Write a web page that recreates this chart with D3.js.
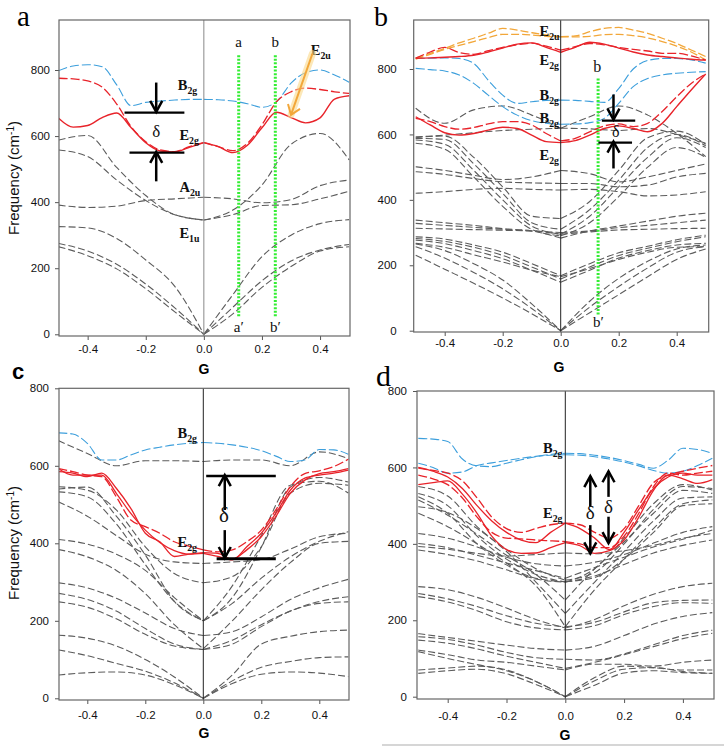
<!DOCTYPE html>
<html lang="en">
<head>
<meta charset="utf-8">
<title>Phonon dispersion panels</title>
<script src="https://d3js.org/d3.v7.min.js"></script>
<style>
  body { margin: 0; background: #fff; }
  text { font-family: "Liberation Sans", Arial, sans-serif; }
</style>
</head>
<body>
<script>
const width = 724, height = 747;

// wave vector grids: fine one for the coloured bands, coarse one for the grey bands
const qFine = [-0.5, -0.45, -0.4, -0.35, -0.3, -0.25, -0.2, -0.15, -0.1, -0.05, 0,
               0.05, 0.1, 0.15, 0.2, 0.25, 0.3, 0.35, 0.4, 0.45, 0.5];
const qCoarse = [-0.5, -0.4, -0.3, -0.2, -0.1, 0, 0.1, 0.2, 0.3, 0.4, 0.5];
const xTicks = [-0.4, -0.2, 0.0, 0.2, 0.4];
const yTicks = [0, 200, 400, 600, 800];

// ---- panel a ----
const aBlue = [798, 812, 816, 810, 755, 692, 702, 706, 709, 711, 711, 710, 706, 698, 687, 704, 760, 792, 800, 785, 763];
const aRedDash = [775, 773, 767, 748, 697, 628, 583, 558, 553, 568, 580, 568, 556, 578, 634, 704, 734, 745, 741, 734, 729];
const aRedSolid = [654, 627, 632, 656, 670, 625, 580, 555, 552, 566, 580, 568, 550, 572, 625, 672, 656, 640, 655, 712, 722];
const aGray = [
  [588, 602, 505, 420, 362, 346, 376, 452, 575, 608, 528],
  [558, 538, 467, 405, 362, 346, 362, 390, 392, 410, 433],
  [391, 384, 388, 405, 410, 415, 410, 398, 408, 450, 467],
  [326, 322, 290, 225, 145, 0, 120, 235, 300, 335, 347],
  [275, 252, 212, 152, 80, 0, 82, 162, 222, 255, 272],
  [265, 238, 198, 138, 68, 0, 62, 142, 205, 252, 265]
];

// ---- panel b ----
const bOrange1 = [833, 848, 863, 880, 894, 909, 924, 919, 911, 904, 899, 901, 914, 924, 927, 919, 909, 894, 878, 858, 838];
const bOrange2 = [830, 845, 860, 872, 884, 896, 906, 906, 904, 900, 898, 898, 900, 905, 906, 902, 895, 884, 870, 852, 828];
const bRedDash = [833, 852, 866, 850, 845, 856, 866, 874, 879, 870, 858, 868, 878, 874, 866, 860, 855, 848, 848, 840, 827];
const bRedSolid = [833, 834, 836, 838, 842, 852, 864, 876, 880, 866, 851, 866, 882, 876, 864, 852, 843, 838, 834, 830, 827];
const bBlue1 = [833, 833, 834, 832, 817, 766, 720, 695, 700, 704, 705, 704, 701, 698, 740, 800, 826, 832, 832, 828, 818];
const bBlue2 = [802, 798, 794, 782, 756, 720, 685, 659, 642, 634, 631, 632, 636, 649, 695, 746, 771, 782, 787, 790, 792];
const bRedDash2 = [649, 639, 624, 616, 621, 632, 639, 639, 629, 603, 580, 588, 608, 626, 632, 624, 634, 670, 715, 756, 785];
const bRedSolid2 = [654, 629, 605, 598, 603, 613, 622, 618, 598, 578, 575, 581, 598, 618, 626, 618, 608, 634, 685, 736, 785];
const bGray = [
  [680, 634, 675, 687, 659, 619, 654, 687, 659, 603, 532],
  [590, 598, 605, 612, 616, 619, 617, 612, 618, 600, 573],
  [593, 595, 530, 440, 350, 343, 395, 490, 590, 610, 570],
  [588, 585, 510, 420, 330, 310, 370, 460, 560, 600, 565],
  [583, 570, 490, 400, 320, 295, 350, 440, 530, 590, 560],
  [573, 555, 470, 380, 310, 290, 330, 410, 500, 560, 530],
  [501, 490, 475, 462, 470, 490, 480, 455, 470, 490, 510],
  [486, 478, 465, 455, 452, 450, 450, 440, 445, 470, 481],
  [420, 425, 432, 435, 432, 430, 432, 425, 412, 415, 425],
  [338, 330, 322, 312, 305, 283, 305, 320, 335, 350, 359],
  [328, 322, 316, 310, 305, 300, 305, 315, 322, 330, 338],
  [313, 311, 309, 307, 305, 295, 302, 308, 310, 312, 313],
  [287, 280, 262, 240, 205, 168, 205, 238, 258, 278, 292],
  [282, 273, 255, 230, 195, 158, 195, 230, 252, 272, 287],
  [277, 266, 245, 220, 185, 148, 185, 222, 245, 262, 267],
  [267, 255, 232, 210, 185, 165, 190, 218, 240, 255, 257],
  [257, 222, 178, 128, 68, 0, 72, 135, 192, 240, 257],
  [231, 188, 145, 100, 52, 0, 55, 110, 165, 218, 250],
  [265, 245, 205, 155, 82, 0, 90, 160, 212, 250, 262]
];

// ---- panel c ----
const cBlue = [685, 682, 658, 615, 615, 628, 641, 648, 654, 658, 660, 658, 654, 648, 639, 625, 611, 615, 642, 641, 630];
const cRed1 = [585, 581, 572, 581, 542, 490, 426, 404, 366, 372, 376, 374, 359, 383, 417, 469, 529, 563, 580, 585, 593];
const cRed2 = [593, 576, 576, 576, 529, 477, 434, 402, 381, 372, 374, 366, 357, 391, 426, 477, 537, 568, 576, 581, 589];
const cRedDash = [593, 585, 576, 572, 520, 460, 443, 426, 404, 393, 383, 378, 383, 404, 434, 486, 546, 580, 587, 598, 617];
const cGray = [
  [665, 632, 600, 613, 613, 611, 615, 615, 600, 636, 619],
  [546, 537, 486, 391, 322, 298, 314, 391, 529, 555, 550],
  [533, 520, 450, 345, 250, 200, 260, 390, 545, 570, 558],
  [507, 470, 420, 372, 352, 348, 352, 358, 385, 417, 426],
  [540, 545, 470, 370, 250, 200, 290, 420, 550, 560, 530],
  [410, 398, 372, 330, 260, 200, 245, 310, 365, 405, 430],
  [384, 365, 330, 270, 190, 128, 200, 280, 350, 400, 405],
  [298, 285, 258, 220, 180, 162, 172, 210, 255, 285, 307],
  [271, 255, 225, 180, 140, 126, 140, 185, 225, 250, 262],
  [249, 235, 205, 165, 135, 126, 150, 190, 225, 245, 249],
  [163, 155, 135, 100, 55, 0, 60, 140, 160, 172, 176],
  [125, 110, 90, 70, 40, 0, 45, 80, 95, 105, 107],
  [60, 66, 68, 60, 35, 0, 38, 62, 68, 65, 56]
];

// ---- panel d ----
const dBlue1 = [676, 674, 668, 622, 604, 602, 611, 620, 628, 634, 637, 636, 632, 626, 618, 608, 598, 619, 650, 647, 637];
const dBlue2 = [611, 600, 585, 588, 605, 612, 618, 624, 629, 632, 633, 632, 628, 622, 614, 604, 592, 585, 590, 605, 624];
const dRedSolid1 = [600, 590, 575, 545, 500, 460, 430, 410, 403, 430, 454, 440, 415, 385, 430, 490, 545, 575, 585, 580, 580];
const dRedSolid2 = [555, 560, 565, 530, 480, 420, 385, 375, 376, 390, 403, 395, 375, 382, 410, 470, 540, 580, 570, 558, 568];
const dRedDash1 = [598, 592, 585, 565, 520, 470, 440, 430, 440, 450, 454, 450, 430, 415, 440, 500, 560, 580, 590, 598, 605];
const dRedDash2 = [580, 570, 555, 520, 470, 430, 415, 413, 410, 408, 406, 400, 390, 390, 420, 480, 550, 585, 580, 585, 590];
const dGray = [
  [550, 525, 445, 385, 335, 305, 325, 400, 490, 550, 545],
  [532, 500, 420, 360, 320, 300, 335, 415, 505, 555, 541],
  [523, 480, 400, 345, 310, 301, 312, 360, 430, 500, 505],
  [515, 475, 425, 370, 320, 253, 335, 405, 480, 540, 532],
  [497, 482, 440, 380, 300, 218, 300, 380, 460, 520, 523],
  [480, 445, 400, 350, 290, 183, 280, 360, 440, 505, 515],
  [427, 415, 392, 365, 348, 342, 352, 372, 402, 430, 445],
  [401, 390, 370, 350, 330, 310, 338, 365, 392, 412, 436],
  [393, 386, 375, 368, 372, 376, 374, 382, 396, 415, 427],
  [384, 372, 355, 332, 308, 300, 316, 346, 376, 396, 410],
  [288, 280, 260, 232, 202, 180, 202, 238, 268, 288, 297],
  [270, 256, 236, 212, 192, 183, 195, 222, 246, 252, 253],
  [262, 248, 225, 196, 180, 175, 186, 215, 236, 246, 244],
  [157, 150, 135, 116, 102, 98, 96, 112, 136, 160, 174],
  [148, 140, 125, 106, 90, 74, 90, 110, 131, 152, 166],
  [122, 110, 96, 90, 80, 70, 85, 85, 80, 90, 96],
  [118, 100, 84, 68, 40, 0, 50, 80, 76, 70, 70],
  [70, 75, 80, 70, 40, 0, 42, 72, 76, 66, 61],
  [61, 68, 72, 60, 32, 0, 30, 62, 68, 63, 61],
  [165, 155, 145, 135, 126, 122, 132, 160, 190, 210, 220]
];

const RED = "#e8232a", BLUE = "#3d9fdc", ORANGE = "#f2a73a", GRAY = "#5c5c5c", GREEN = "#33ee33";

const svg = d3.select("body").append("svg")
  .attr("width", width).attr("height", height)
  .style("background", "#fff");

function makePanel(id, xr, yr, box, opts) {
  const x = d3.scaleLinear().domain([-0.5, 0.5]).range(xr);
  const y = d3.scaleLinear().domain([0, 800]).range(yr);
  const g = svg.append("g");

  svg.append("clipPath").attr("id", "clip-" + id)
    .append("rect").attr("x", box[0]).attr("y", box[1])
    .attr("width", box[2] - box[0]).attr("height", box[3] - box[1]);
  const plot = g.append("g").attr("clip-path", "url(#clip-" + id + ")");

  const line = d3.line().x(d => x(d[0])).y(d => y(d[1])).curve(d3.curveMonotoneX);

  // every band is drawn as two branches that meet at Gamma
  function band(vals, color, dash, w) {
    const grid = vals.length === qFine.length ? qFine : qCoarse;
    const mid = (vals.length - 1) / 2;
    const pts = vals.map((v, i) => [grid[i], v]);
    [pts.slice(0, mid + 1), pts.slice(mid)].forEach(seg => {
      plot.append("path").attr("d", line(seg))
        .attr("fill", "none").attr("stroke", color)
        .attr("stroke-width", w || 1.1)
        .attr("stroke-dasharray", dash || null);
    });
  }

  // axes
  const yAxis = d3.axisLeft(y).tickValues(yTicks).tickSize(4).tickPadding(opts.yPad)
    .tickFormat(d3.format("d"));
  const xAxis = d3.axisBottom(x).tickValues(xTicks).tickSize(4).tickPadding(opts.xPad)
    .tickFormat(d => d.toFixed(1));
  const ya = g.append("g").attr("transform", `translate(${box[0]},0)`).call(yAxis);
  const xa = g.append("g").attr("transform", `translate(0,${box[3]})`).call(xAxis);
  [ya, xa].forEach(a => {
    a.select(".domain").remove();
    a.selectAll("line").attr("stroke", "#555");
    a.selectAll("text").attr("fill", "#111").style("font-size", "11.5px");
  });

  // Gamma line and frame
  g.append("line").attr("x1", x(0)).attr("x2", x(0)).attr("y1", box[1]).attr("y2", box[3])
    .attr("stroke", opts.midColor).attr("stroke-width", 1);
  g.append("rect").attr("x", box[0]).attr("y", box[1])
    .attr("width", box[2] - box[0]).attr("height", box[3] - box[1])
    .attr("fill", "none").attr("stroke", "#666").attr("stroke-width", 1.2);

  return { x, y, g, plot, band };
}

// label with a subscript, e.g. B + "2g"
function modeLabel(p, q, v, main, sub, size) {
  const s = size || 14.5;
  const t = p.g.append("text").attr("x", p.x(q)).attr("y", p.y(v))
    .style("font-family", "'Liberation Serif', 'Times New Roman', serif")
    .style("font-weight", "bold").style("font-size", s + "px").attr("fill", "#111");
  t.append("tspan").text(main);
  t.append("tspan").attr("dy", 4).style("font-size", (s * 0.68) + "px").text(sub);
}

function serifText(p, q, v, txt, size, anchor) {
  p.g.append("text").attr("x", p.x(q)).attr("y", p.y(v))
    .attr("text-anchor", anchor || "middle")
    .style("font-family", "'Liberation Serif', 'Times New Roman', serif")
    .style("font-size", size + "px").attr("fill", "#111").text(txt);
}

function hbar(p, q1, q2, v, w) {
  p.g.append("line").attr("x1", p.x(q1)).attr("x2", p.x(q2))
    .attr("y1", p.y(v)).attr("y2", p.y(v))
    .attr("stroke", "#000").attr("stroke-width", w || 2.5);
}

// arrow from v1 to v2 at fixed q, chevron head at v2
function arrow(p, q, v1, v2, color, w) {
  const X = p.x(q), Y1 = p.y(v1), Y2 = p.y(v2);
  const dir = Y2 > Y1 ? 1 : -1;
  const c = color || "#000";
  p.g.append("line").attr("x1", X).attr("x2", X).attr("y1", Y1).attr("y2", Y2)
    .attr("stroke", c).attr("stroke-width", w || 2.5);
  p.g.append("path")
    .attr("d", `M${X - 6},${Y2 - dir * 11}L${X},${Y2}L${X + 6},${Y2 - dir * 11}`)
    .attr("fill", "none").attr("stroke", c).attr("stroke-width", w || 2.5);
}

function greenGuide(p, q, v1, v2) {
  p.g.append("line").attr("x1", p.x(q)).attr("x2", p.x(q))
    .attr("y1", p.y(v1)).attr("y2", p.y(v2))
    .attr("stroke", GREEN).attr("stroke-width", 3).attr("stroke-dasharray", "2,1.6");
}

// ================= panel a =================
const pa = makePanel("a", [58.6, 349.1], [334.3, 70], [59, 20, 350, 336],
  { yPad: 5, xPad: 5, midColor: "#888" });
aGray.forEach(v => pa.band(v, GRAY, "7,3"));
pa.band(aBlue, BLUE, "9,3");
pa.band(aRedDash, RED, "9,3", 1.3);
pa.band(aRedSolid, RED, null, 1.4);
greenGuide(pa, 0.12, 845, 53);
greenGuide(pa, 0.246, 845, 53);
serifText(pa, 0.12, 871, "a", 15);
serifText(pa, 0.246, 871, "b", 15);
serifText(pa, 0.12, 8, "a\u2032", 15);
serifText(pa, 0.246, 8, "b\u2032", 15);
hbar(pa, -0.273, -0.067, 671, 2.2);
hbar(pa, -0.256, -0.067, 550, 2.2);
arrow(pa, -0.164, 762, 673);
arrow(pa, -0.164, 463, 552);
serifText(pa, -0.164, 598, "\u03b4", 17);
modeLabel(pa, -0.09, 739, "B", "2g");
modeLabel(pa, -0.084, 588, "E", "2g");
modeLabel(pa, -0.084, 432, "A", "2u");
modeLabel(pa, -0.084, 290, "E", "1u");
modeLabel(pa, 0.368, 845, "E", "2u");
// orange pointer to E2u
pa.g.append("line").attr("x1", pa.x(0.374)).attr("y1", pa.y(850))
  .attr("x2", pa.x(0.3)).attr("y2", pa.y(664))
  .attr("stroke", "#fbd98a").attr("stroke-width", 7).attr("stroke-linecap", "round").attr("opacity", 0.6);
pa.g.append("line").attr("x1", pa.x(0.374)).attr("y1", pa.y(850))
  .attr("x2", pa.x(0.3)).attr("y2", pa.y(664))
  .attr("stroke", ORANGE).attr("stroke-width", 2);
{
  const X2 = pa.x(0.3), Y2 = pa.y(664);
  pa.g.append("path").attr("d", `M${X2 - 3},${Y2 - 11}L${X2},${Y2}L${X2 + 9},${Y2 - 6}`)
    .attr("fill", "none").attr("stroke", ORANGE).attr("stroke-width", 2);
}
pa.g.append("text").attr("x", 14).attr("y", 178)
  .attr("transform", "rotate(-90,14,178)").attr("text-anchor", "middle")
  .attr("dy", "0.35em").style("font-size", "15px").attr("fill", "#111")
  .call(t => {
    t.append("tspan").text("Frequency (cm");
    t.append("tspan").attr("dy", -5).style("font-size", "10px").text("-1");
    t.append("tspan").attr("dy", 5).text(")");
  });
svg.append("text").attr("x", 204).attr("y", 374).attr("text-anchor", "middle")
  .style("font-size", "14px").style("font-weight", "bold").text("G");
svg.append("text").attr("x", 17).attr("y", 26)
  .style("font-family", "'Liberation Serif', serif").style("font-size", "29px").text("a");

// ================= panel b =================
const pb = makePanel("b", [415.7, 705.7], [330.7, 69], [413.7, 20, 708.7, 332],
  { yPad: 13, xPad: 3, midColor: "#222" });
bGray.forEach(v => pb.band(v, GRAY, "7,3"));
pb.band(bBlue1, BLUE, "9,3");
pb.band(bBlue2, BLUE, "9,3");
pb.band(bOrange1, ORANGE, "8,3", 1.3);
pb.band(bOrange2, ORANGE, "8,3", 1.3);
pb.band(bRedDash, RED, "9,3", 1.3);
pb.band(bRedSolid, RED, null, 1.4);
pb.band(bRedDash2, RED, "9,3", 1.3);
pb.band(bRedSolid2, RED, null, 1.4);
greenGuide(pb, 0.129, 771, 48);
serifText(pb, 0.126, 792, "b", 16);
serifText(pb, 0.13, 12, "b\u2032", 15);
hbar(pb, 0.142, 0.257, 642, 2.2);
hbar(pb, 0.13, 0.246, 575, 2.2);
arrow(pb, 0.182, 722, 645);
arrow(pb, 0.182, 496, 578);
serifText(pb, 0.19, 593, "\u03b4", 16);
modeLabel(pb, -0.073, 901, "E", "2u");
modeLabel(pb, -0.073, 812, "E", "2g");
modeLabel(pb, -0.073, 705, "B", "2g");
modeLabel(pb, -0.073, 636, "B", "2g");
modeLabel(pb, -0.073, 522, "E", "2g");
svg.append("text").attr("x", 559).attr("y", 372).attr("text-anchor", "middle")
  .style("font-size", "14px").style("font-weight", "bold").text("G");
svg.append("text").attr("x", 374).attr("y", 26)
  .style("font-family", "'Liberation Serif', serif").style("font-size", "28px").text("b");

// ================= panel c =================
const pc = makePanel("c", [58.3, 348.3], [698.3, 388.3], [59, 388.3, 349, 700],
  { yPad: 6, xPad: 7, midColor: "#222" });
cGray.forEach(v => pc.band(v, GRAY, "7,3"));
pc.band(cBlue, BLUE, "9,3");
pc.band(cRedDash, RED, "9,3", 1.3);
pc.band(cRed1, RED, null, 1.3);
pc.band(cRed2, RED, null, 1.3);
hbar(pc, 0.01, 0.25, 574, 2.5);
hbar(pc, 0.046, 0.25, 360, 3);
arrow(pc, 0.074, 486, 576);
arrow(pc, 0.074, 434, 362);
serifText(pc, 0.071, 456, "\u03b4", 21);
modeLabel(pc, -0.089, 673, "B", "2g");
modeLabel(pc, -0.089, 391, "E", "2g");
pc.g.append("text").attr("x", 14).attr("y", 543)
  .attr("transform", "rotate(-90,14,543)").attr("text-anchor", "middle")
  .attr("dy", "0.35em").style("font-size", "15px").attr("fill", "#111")
  .call(t => {
    t.append("tspan").text("Frequency (cm");
    t.append("tspan").attr("dy", -5).style("font-size", "10px").text("-1");
    t.append("tspan").attr("dy", 5).text(")");
  });
svg.append("text").attr("x", 204).attr("y", 738).attr("text-anchor", "middle")
  .style("font-size", "14px").style("font-weight", "bold").text("G");
svg.append("text").attr("x", 12).attr("y", 379)
  .style("font-size", "22px").style("font-weight", "bold").text("c");

// ================= panel d =================
const pd = makePanel("d", [418.3, 712.3], [696.7, 391], [417, 391, 714, 699],
  { yPad: 6, xPad: 9, midColor: "#222" });
dGray.forEach(v => pd.band(v, GRAY, "7,3"));
pd.band(dBlue1, BLUE, "9,3");
pd.band(dBlue2, BLUE, "9,3");
pd.band(dRedDash1, RED, "9,3", 1.3);
pd.band(dRedDash2, RED, "9,3", 1.3);
pd.band(dRedSolid1, RED, null, 1.3);
pd.band(dRedSolid2, RED, null, 1.3);
arrow(pd, 0.085, 497, 577);
arrow(pd, 0.085, 449, 375);
arrow(pd, 0.147, 523, 590);
arrow(pd, 0.147, 471, 402);
serifText(pd, 0.085, 464, "\u03b4", 19);
serifText(pd, 0.147, 480, "\u03b4", 19);
modeLabel(pd, -0.076, 639, "B", "2g");
modeLabel(pd, -0.076, 467, "E", "2g");
svg.append("text").attr("x", 565).attr("y", 740).attr("text-anchor", "middle")
  .style("font-size", "14px").style("font-weight", "bold").text("G");
svg.append("text").attr("x", 376).attr("y", 386)
  .style("font-family", "'Liberation Serif', serif").style("font-size", "30px").text("d");
svg.append("line").attr("x1", 382).attr("x2", 724).attr("y1", 745).attr("y2", 745)
  .attr("stroke", "#c8c8c8").attr("stroke-width", 1.5);
</script>
</body>
</html>
